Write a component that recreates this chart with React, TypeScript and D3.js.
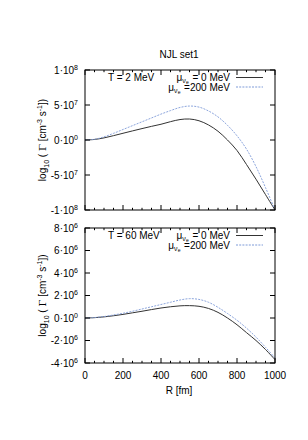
import React from "react";
import * as d3 from "d3";

const R = [0, 50, 100, 150, 200, 250, 300, 350, 400, 450, 500, 550, 600, 650, 700, 750, 800, 850, 900, 950, 1000];

// T = 2 MeV (units 1e7)
const top_mu0 = [0, 0.08, 0.3, 0.62, 0.96, 1.3, 1.63, 1.95, 2.25, 2.62, 2.92, 3.0, 2.75, 2.15, 1.25, 0.0, -1.5, -3.5, -5.6, -7.8, -10.0];
const top_mu200 = [0, 0.1, 0.45, 0.95, 1.5, 2.05, 2.6, 3.15, 3.7, 4.2, 4.65, 4.85, 4.7, 4.15, 3.3, 2.1, 0.6, -1.3, -3.8, -6.8, -10.0];

// T = 60 MeV (units 1e6)
const bot_mu0 = [0, 0.03, 0.1, 0.2, 0.32, 0.46, 0.6, 0.75, 0.89, 1.0, 1.08, 1.1, 1.04, 0.85, 0.5, 0.0, -0.6, -1.3, -2.0, -2.8, -3.7];
const bot_mu200 = [0, 0.04, 0.13, 0.27, 0.42, 0.6, 0.8, 1.0, 1.2, 1.4, 1.6, 1.72, 1.65, 1.4, 0.95, 0.4, -0.2, -0.9, -1.7, -2.6, -3.55];

const topTicks = [
  { v: 10, m: "1", e: "8" },
  { v: 5, m: "5", e: "7" },
  { v: 0, m: "0", e: "0" },
  { v: -5, m: "-5", e: "7" },
  { v: -10, m: "-1", e: "8" },
];
const botTicks = [
  { v: 8, m: "8", e: "6" },
  { v: 6, m: "6", e: "6" },
  { v: 4, m: "4", e: "6" },
  { v: 2, m: "2", e: "6" },
  { v: 0, m: "0", e: "0" },
  { v: -2, m: "-2", e: "6" },
  { v: -4, m: "-4", e: "6" },
];
const xMajor = [0, 200, 400, 600, 800, 1000];
const xMinor = d3.range(0, 1001, 50);

const FONT = "Liberation Sans, Arial, Helvetica, sans-serif";
const BLACK = "#333";
const BLUE = "#7f9bd8";

const L = 85, Rr = 275;
const x = d3.scaleLinear().domain([0, 1000]).range([L, Rr]);

function Panel({ y0, y1, dom, ticks, s0, s1, tLabel }: any) {
  const y = d3.scaleLinear().domain(dom).range([y1, y0]);
  const line = d3
    .line<number>()
    .x((_, i) => x(R[i]))
    .y((d) => y(d))
    .curve(d3.curveCatmullRom.alpha(0.5));
  const cy = (y0 + y1) / 2;
  return (
    <g>
      <path d={line(s0) || ""} fill="none" stroke={BLACK} strokeWidth={1} />
      <path d={line(s1) || ""} fill="none" stroke={BLUE} strokeWidth={0.9} strokeDasharray="2,1.2" />
      {/* frame */}
      <rect x={L} y={y0} width={Rr - L} height={y1 - y0} fill="none" stroke="#000" strokeWidth={1} />
      {/* x ticks */}
      {xMinor.map((v) => {
        const major = v % 200 === 0;
        const len = major ? 5 : 2.2;
        return (
          <g key={v}>
            <line x1={x(v)} x2={x(v)} y1={y1} y2={y1 - len} stroke="#000" />
            <line x1={x(v)} x2={x(v)} y1={y0} y2={y0 + len} stroke="#000" />
          </g>
        );
      })}
      {ticks.map((t: any) => (
        <g key={t.v}>
          <line x1={L} x2={L + 5} y1={y(t.v)} y2={y(t.v)} stroke="#000" />
          <line x1={Rr} x2={Rr - 5} y1={y(t.v)} y2={y(t.v)} stroke="#000" />
          <text x={78} y={y(t.v) + 3.5} textAnchor="end" fontSize={10} fontFamily={FONT}>
            {t.m}·10
            <tspan dy={-4} fontSize={7}>{t.e}</tspan>
          </text>
        </g>
      ))}
      {/* y label */}
      <text
        transform={`translate(46,${cy}) rotate(-90)`}
        textAnchor="middle"
        fontSize={10}
        fontFamily={FONT}
      >
        log<tspan dy={3} fontSize={7}>10</tspan>
        <tspan dy={-3}> ( </tspan>
        <tspan fontFamily="DejaVu Serif, serif">Γ</tspan>
        <tspan> [cm</tspan>
        <tspan dy={-4} fontSize={7}>-3</tspan>
        <tspan dy={4}> s</tspan>
        <tspan dy={-4} fontSize={7}>-1</tspan>
        <tspan dy={4}>])</tspan>
      </text>
      {/* legend */}
      <text x={108} y={y0 + 10.5} fontSize={10} fontFamily={FONT}>{tLabel}</text>
      <text x={230} y={y0 + 10.5} textAnchor="end" fontSize={10} fontFamily={FONT}>
        μ<tspan dy={2.5} fontSize={7}>ν</tspan>
        <tspan dy={1} dx={0.3} fontSize={5}>e</tspan>
        <tspan dy={-3.5} dx={0.8}> = 0 MeV</tspan>
      </text>
      <line x1={236} x2={263} y1={y0 + 7.5} y2={y0 + 7.5} stroke={BLACK} />
      <text x={230} y={y0 + 20.5} textAnchor="end" fontSize={10} fontFamily={FONT}>
        μ<tspan dy={2.5} fontSize={7}>ν</tspan>
        <tspan dy={1} dx={0.3} fontSize={5}>e</tspan>
        <tspan dy={-3.5} dx={0.8}> =200 MeV</tspan>
      </text>
      <line x1={236} x2={263} y1={y0 + 17} y2={y0 + 17} stroke={BLUE} strokeDasharray="2,1.2" />
    </g>
  );
}

export default function App() {
  return (
    <svg
      width={308}
      height={440}
      style={{ position: "absolute", left: 0, top: 0, background: "#fff" }}
    >
      <rect width={308} height={440} fill="#fff" />
      <text x={179} y={58} textAnchor="middle" fontSize={10} fontFamily={FONT}>NJL set1</text>
      <Panel y0={70} y1={210} dom={[-10, 10]} ticks={topTicks} s0={top_mu0} s1={top_mu200} tLabel="T = 2 MeV" />
      <Panel y0={228} y1={363} dom={[-4, 8]} ticks={botTicks} s0={bot_mu0} s1={bot_mu200} tLabel="T = 60 MeV" />
      {xMajor.map((v) => (
        <text key={v} x={x(v)} y={379} textAnchor="middle" fontSize={10} fontFamily={FONT}>{v}</text>
      ))}
      <text x={179} y={394} textAnchor="middle" fontSize={10} fontFamily={FONT}>R [fm]</text>
    </svg>
  );
}
